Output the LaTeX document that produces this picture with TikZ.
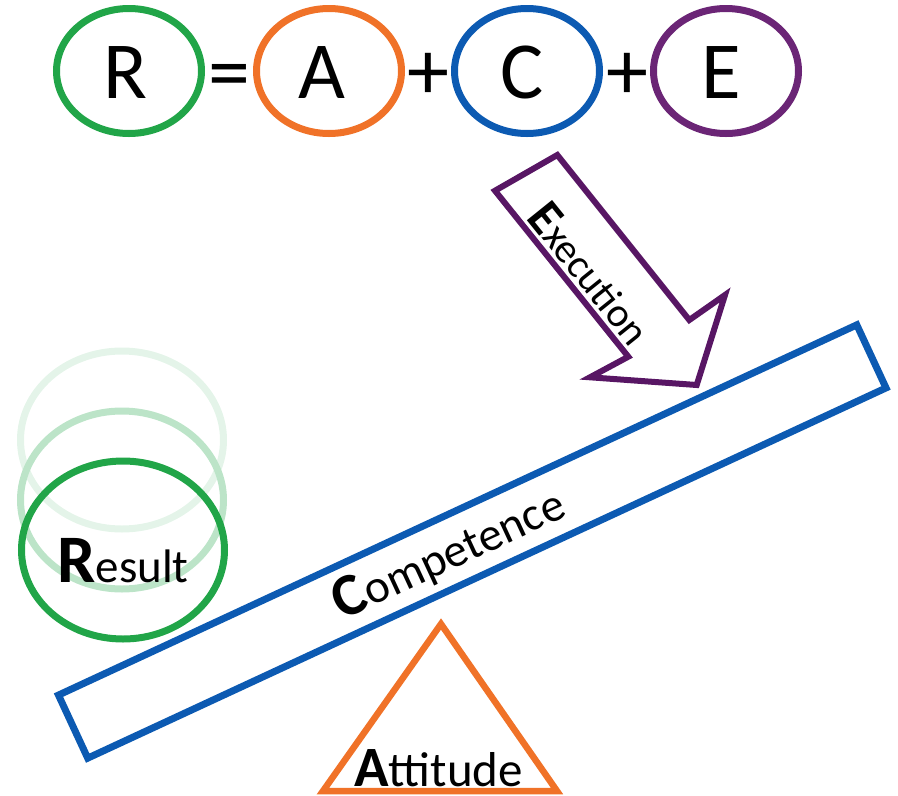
\documentclass[tikz,border=0pt]{standalone}
\usepackage{fontspec}
\setmainfont{Carlito}
\usetikzlibrary{shapes.geometric}
\definecolor{rgreen}{RGB}{33,165,72}
\definecolor{aorange}{RGB}{240,114,40}
\definecolor{cblue}{RGB}{12,90,178}
\definecolor{epurple}{RGB}{107,37,118}
\definecolor{apurple}{RGB}{88,22,100}
\newcommand{\fsz}[1]{\fontsize{#1}{#1}\selectfont}
\begin{document}
\begin{tikzpicture}[x=1pt,y=-1pt,
  topell/.style={ellipse, draw, line width=7pt, minimum width=145pt, minimum height=125pt, inner sep=0pt},
  letter/.style={anchor=base, inner sep=0pt, font=\fsz{81}},
  opsign/.style={anchor=base, inner sep=0pt, font=\fsz{84}},
  resring/.style={ellipse, draw, line width=7pt, minimum width=203pt, minimum height=178pt, inner sep=0pt},
  wordlabel/.style={anchor=base, inner sep=0pt, text=black},
]
\useasboundingbox (0,0) rectangle (898,796);
% top formula
\node[topell, rgreen]   (eR) at (129,71) {};
\node[topell, aorange]  (eA) at (329,71) {};
\node[topell, cblue]    (eC) at (527,71) {};
\node[topell, epurple]  (eE) at (726,71) {};
\node[letter] (lR) at (125,98) {R};
\node[letter] (lA) at (322,98) {A};
\node[letter] (lC) at (522,98) {C};
\node[letter] (lE) at (721,98) {E};
\node[opsign] (eq) at (229,100) {=};
\node[opsign] (p1) at (428,99) {+};
\node[opsign] (p2) at (627,99) {+};
% result rings
\node[resring, rgreen!12!white] (r3) at (122,440) {};
\node[resring, rgreen!30!white] (r2) at (122,500) {};
\node[resring, rgreen] (r1) at (123,550) {};
\node[wordlabel] (tR) at (123,582) {\textbf{\fsz{68}R}\fsz{47}esult};
% lever bar
\node[draw=cblue, line width=7pt, rectangle, rotate=24.88, minimum width=880pt, minimum height=69.5pt, inner sep=0pt] (bar) at (472.25,541.5) {};
\node[wordlabel, rotate=24.88] (tC) at (455.5,568) {\textbf{\fsz{60}C}\fsz{47}ompetence};
% execution arrow
\draw[apurple, line width=6pt, fill=white] (495,190.7) -- (557.3,155) -- (689.3,320) -- (725,295) -- (696.7,385) -- (590,377.3) -- (628.3,356.7) -- cycle;
\node[wordlabel, rotate=-51.2] (tE) at (578,283.2) {\textbf{\fsz{50}E}\fsz{41}xecution};
% attitude triangle
\draw[aorange, line width=6.5pt] (441,624) -- (557,791) -- (323,791) -- cycle;
\node[wordlabel] (tA) at (438.5,786) {\textbf{\fsz{57}A}\fsz{49}ttitude};
\end{tikzpicture}
\end{document}
